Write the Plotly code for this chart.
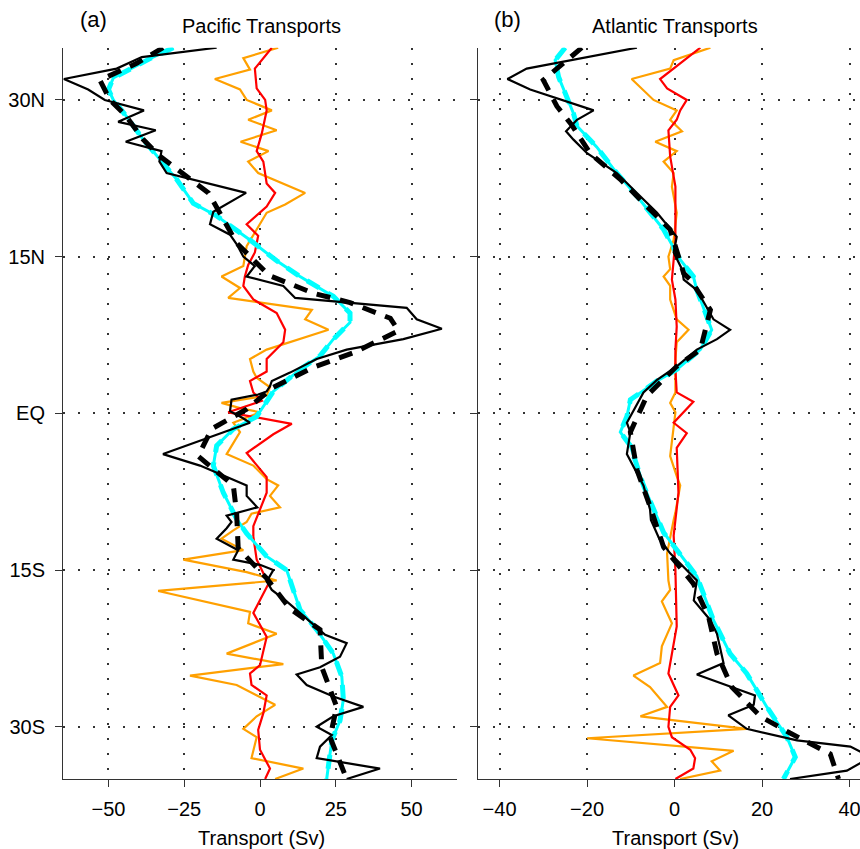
import plotly.graph_objects as go

W, H = 860, 849

# ---------------- Pacific (panel a) ----------------
pac_black_lat = [35, 34.1, 33, 32, 31, 30, 29, 27.9, 27.1, 26, 25.1, 24.1, 23, 21.1, 19.3, 18.1, 17.1, 16.1, 15, 14.1, 13.1,
                 12.2, 11.05, 10.1, 9, 8.1, 7.1, 6.1, 5.2, 3.9, 3.1, 2.6, 2.1, 1.8, 1.3, 0.2, -0.4, -0.9, -3.9, -5, -6.9,
                 -7.9, -9, -9.8, -10.4, -11, -12, -13.1, -14, -14.5, -15, -16.1, -16.9, -18, -19.1, -20.1, -21.2, -22,
                 -23.3, -24.3, -25, -26, -27.1, -28.1, -29, -30, -30.8, -31.9, -33, -34, -35]
pac_black_val = [-14.3, -39, -47.3, -64.7, -56.7, -51.2, -38.3, -46.8, -34.4, -44.3, -32.5, -33.2, -30.8, -4.6, -15.4, -16.5,
                 -9.9, -7.5, -5.5, -1.7, -4.4, 7.7, 11.6, 48.4, 51.7, 60, 47.3, 28.6, 18.7, 9.9, 3.9, 3.3, 2.2, -0.6, -9.4,
                 -9.9, -6, -3.3, -32, -19.8, -4.4, -4.4, -0.9, -11, -9.4, -11, -14.3, -7.2, -8.8, 0, 4.4, 2.2, 3.9, 8.8,
                 13.2, 17.1, 21.5, 28.6, 26.4, 19.8, 12.1, 15.4, 24.2, 34.1, 24.2, 18.7, 23.7, 19.8, 18.7, 39.6, 28.6]

pac_dash_lat = [35, 33.5, 31.9, 30, 28.6, 26.2, 24.6, 23.3, 21.1, 18.9, 16.3, 13.2, 11.5, 10.6, 9.1, 7.9, 5.8, 4.4, 2.5, 0.4,
                -1.5, -4.1, -6.9, -9.6, -12.9, -15.8, -18.7, -20.7, -24.3, -28.1, -31, -35]
pac_dash_val = [-32, -40.7, -52.8, -49.5, -44.6, -38.5, -33, -27, -17, -12.7, -7.7, 3, 17.6, 29.7, 43, 45.7, 30.8, 17.6, 4.4,
                -4.4, -16, -20.4, -8.8, -7.7, -7.2, 2.2, 9.9, 19.8, 20.4, 25.3, 23.1, 28.6]

pac_cyan_lat = [35, 34, 32.1, 31, 30, 28.4, 26.2, 24.3, 22.4, 20.1, 18.9, 16.6, 14.6, 13.1, 11.2, 9.6, 8.7, 7.1, 5.5, 4.2, 2.1,
                -0.3, -1.5, -3.1, -5, -7.6, -10.1, -11.5, -13.7, -15, -18.8, -20.7, -23, -25.2, -27.4, -29.4, -31.3, -35]
pac_cyan_val = [-28.6, -36, -48.4, -50, -48.4, -44, -38.5, -33, -27.5, -22, -14.3, -3.3, 5.5, 13.2, 24.2, 29.7, 29.7, 24.2,
                19.8, 13.2, 4.4, -1.1, -8.8, -14.3, -15.4, -12.1, -7.7, -4.4, 2.2, 8.8, 13.2, 18.7, 24.2, 27, 27.5, 26.4,
                23.7, 22]

pac_orange_lat = [35, 34, 32.9, 32, 31, 30, 29, 28.1, 27.1, 26, 25.1, 24.1, 23, 22, 21.1, 20, 19.2, 17.6, 16, 14.1, 13.1, 12,
                  11.05, 9.9, 9, 8, 6.1, 5.2, 4, 3.4, 2.5, 1.7, 1, 0.5, 0.1, -0.9, -1.8, -3.9, -5, -6.3, -6.9, -7.9, -9,
                  -9.6, -10.4, -11.2, -12, -13.1, -14, -15.2, -16, -17, -19, -20.1, -21.1, -23, -24, -25.1, -26, -27.9,
                  -29, -30.2, -31, -33, -34, -35]
pac_orange_val = [6, -5.5, -3.3, -14.9, -6.6, -4.4, 3.9, -3.9, 5.5, -6.4, 2.8, -3.9, -0.6, 7.7, 14.9, 8.3, 2.2, -1.1, -4.4,
                  -5.5, -12.7, -6.6, -10.5, 17.1, 14.9, 22.6, 2.2, -3.3, -2.2, -1.1, 3.3, 2.2, -12.7, -6.6, 0, -8.8, -6.6,
                  -11, -2.2, 2.2, 6, 3.3, 6.6, -2.8, -4.4, -8.8, -12.7, -5.5, -25.3, -4.4, 5.5, -33.6, -3.3, -3.9, 5.5,
                  -11, 7.7, -23.1, -7.7, 5, -1.1, -5.5, -1.1, -2.8, 14.3, 5]

pac_red_lat = [35, 33, 31.1, 30, 29, 26.8, 25.1, 24.1, 22, 21.1, 19.8, 18.1, 17, 15.4, 14.2, 13.1, 12.2, 10.9, 9.6, 8, 6.8,
               5.2, 4, 3.1, 2, 1.2, 0.1, -1, -2, -3.8, -6.1, -7.6, -10.8, -11.8, -14, -16.3, -19.1, -21.4, -24.1, -24.9,
               -26, -27, -28.7, -30.3, -32.2, -34, -35]
pac_red_val = [3.9, -1.7, -1.1, 1.7, 2.2, 0.6, -1.1, 1.1, 2.2, 5, 2.2, -4.4, -0.6, -1.7, -3.9, -5, -5.5, -2.2, 5.5, 8.3, 7.7,
               2.2, 2.2, -3.3, -2.2, 0.6, -10.5, 10.5, 4.4, -4.4, 2.2, 2.2, -2.2, -2.2, -1.1, 2.8, -2.2, 2.2, 0, -3.3,
               -2.8, 2.2, 1.1, -0.6, 0, 3.3, 1.7]

# ---------------- Atlantic (panel b) ----------------
atl_black_lat = [35, 33, 32, 31, 29, 28.1, 27, 26.2, 24.9, 23, 21.1, 19.2, 16.9, 15.4, 13.8, 12.8, 11.8, 9, 8, 7.1, 6.1,
                 4.5, 3.2, 2, -0.9, -1.8, -3.9, -6.9, -9.2, -10.2, -12, -13.4, -16, -17.9, -19.8, -21.1, -23.9, -25,
                 -27, -27.9, -28.9, -30.2, -31.3, -31.9, -32.9, -34.2, -35]
atl_black_val = [-8.6, -33.8, -38.2, -33, -18.5, -22.3, -24.8, -23.1, -20, -13.2, -8.6, -4, 0.5, -0.2, 1.7, 2.1, 5.1, 8.9,
                 12.7, 9.7, 5.1, 0.5, -4, -7.1, -10.9, -10.1, -10.9, -7.1, -5.6, -5.4, -3.5, -1, 5.1, 4.4, 8.2, 9.7,
                 11.2, 5.1, 18.4, 18.1, 12.3, 16.5, 28, 40.2, 45, 39.4, 26.4]

atl_dash_lat = [35, 31.9, 29.4, 27.6, 24.9, 22.4, 19.8, 17.6, 13.4, 12.8, 9.9, 6.1, 4.5, 1.7, -1.8, -5.4, -8.9, -12.8, -16.3,
                -19.5, -23, -26.2, -29, -30.6, -32.6, -34.5, -35]
atl_dash_val = [-21.2, -30, -26.9, -23.5, -19.3, -12.4, -6.3, -1, 2.1, 3.6, 8.2, 5.9, 0.5, -6.3, -10.1, -8.6, -5.6, -2.5,
                4.3, 7.8, 9.7, 13.1, 19.6, 26.4, 35.6, 37.1, 37.5]

atl_cyan_lat = [35, 33.8, 32.2, 30.3, 28.7, 27.5, 25.5, 23, 20.8, 17.6, 14.7, 13.1, 11.8, 8, 6.1, 4.2, 3.1, 1.3, -0.3, -1.8,
                -3.1, -6.9, -11.4, -15.6, -19.8, -23, -24.9, -28.1, -31, -32.9, -35]
atl_cyan_val = [-25, -27.3, -26.5, -24.6, -23.1, -22.3, -17.8, -13.2, -8.6, -2.5, 1.3, 4.3, 5.1, 8.5, 5.9, 0.5, -4, -10.1,
                -10.9, -12.4, -10.1, -7.1, -2.5, 5.1, 8.9, 12.7, 16.5, 21.1, 25.7, 27.6, 24.9]

atl_orange_lat = [35, 33.8, 33, 32, 30, 29, 28.1, 27, 26, 25.1, 24.1, 23, 21.7, 19.2, 16.6, 15, 13.8, 13.1, 12.2, 10.9, 9,
                  8, 6.8, 5.2, 2, 1, 0.1, -1.5, -4.1, -6, -6.9, -9.5, -10.2, -13.4, -16, -16.9, -18, -20.1, -22.3, -23.9,
                  -25.1, -26.2, -28.1, -29, -30.2, -31.1, -32.3, -33.3, -34.2, -35]
atl_orange_val = [8.2, -0.2, -1, -9.8, -4.8, 0.5, -1, 1.7, -4.4, 0.5, -2.5, -0.2, -0.6, 0.5, -0.2, -1.4, -1, -2.5, -1, -1,
                  0.5, 3.2, 0.5, 0.2, 0.2, -1, 0.2, -0.2, -1, 0.5, 1.3, 0.2, -0.2, -1.7, -1.4, -1, -2.9, -0.6, -2.9, -3.3,
                  -9.4, -5.6, -1.7, -7.8, 16.5, -20, 13.5, 8.5, 10.4, 1.3]

atl_red_lat = [35, 34, 32, 31.1, 30, 29, 28.1, 27.1, 24.6, 21.7, 16.6, 12.8, 10.9, 8.3, 6.1, 4.2, 2, 1.1, -0.9, -1.9, -3.3,
               -7.6, -11.7, -15, -20.4, -24.9, -27, -28.1, -30, -31, -32.2, -33, -34, -35]
atl_red_val = [5.9, 2.8, -3.3, -1.7, 2.8, 1.3, 0.5, -1.4, -1, 0.2, 0.2, -0.6, 0.2, 0.5, 0.2, 0.2, 0.5, 4.3, -0.2, 2.8, 0.5,
               0.9, -0.2, 0.2, 0.5, -1.4, 0.9, -1, -1.4, -0.6, 3.6, 4.7, 4.3, 0.2]

# ---------------- axes / labels ----------------
lat_ticks = [-30, -15, 0, 15, 30]
lat_labels = ["30S", "15S", "EQ", "15N", "30N"]
pac_xticks = [-50, -25, 0, 25, 50]
atl_xticks = [-40, -20, 0, 20, 40]

BLACK = "#000000"
CYAN = "#00FFFF"
ORANGE = "#FFA000"
RED = "#FF0000"
FONT = "Liberation Sans, Arial, sans-serif"

fig = go.Figure()


def add(xa, ya, lat, val, color, width, dash="solid"):
    fig.add_trace(go.Scatter(x=val, y=lat, mode="lines", xaxis=xa, yaxis=ya,
                             line=dict(color=color, width=width, dash=dash),
                             showlegend=False, hoverinfo="skip"))


for xa, ya, d in [("x", "y", dict(o=(pac_orange_lat, pac_orange_val), r=(pac_red_lat, pac_red_val),
                                  c=(pac_cyan_lat, pac_cyan_val), kd=(pac_dash_lat, pac_dash_val),
                                  k=(pac_black_lat, pac_black_val))),
                  ("x2", "y2", dict(o=(atl_orange_lat, atl_orange_val), r=(atl_red_lat, atl_red_val),
                                    c=(atl_cyan_lat, atl_cyan_val), kd=(atl_dash_lat, atl_dash_val),
                                    k=(atl_black_lat, atl_black_val)))]:
    add(xa, ya, *d["o"], ORANGE, 2.2)
    add(xa, ya, *d["r"], RED, 2.2)
    add(xa, ya, *d["c"], CYAN, 3)
    add(xa, ya, *d["c"], CYAN, 5, "14px,10px")
    add(xa, ya, *d["kd"], BLACK, 5, "14px,10px")
    add(xa, ya, *d["k"], BLACK, 2.2)

ydom = [1 - 779 / H, 1 - 47.7 / H]
common = dict(showline=True, linecolor="#333333", linewidth=1, ticks="outside", ticklen=7, tickwidth=1,
              tickcolor="#333333", showgrid=True, gridcolor="#333333", gridwidth=1.5, griddash="2px,13px",
              zeroline=False, tickfont=dict(family=FONT, size=20, color="black"), automargin=False, mirror=False,
              ticklabeloverflow="allow")

fig.update_layout(
    width=W, height=H, margin=dict(l=0, r=0, t=0, b=0),
    paper_bgcolor="white", plot_bgcolor="white",
    xaxis=dict(domain=[63 / W, 457 / W], range=[-65, 65], tickvals=pac_xticks, anchor="y",
               ticklabelstandoff=5, **common),
    yaxis=dict(domain=ydom, range=[-35, 35], tickvals=lat_ticks, ticktext=lat_labels, anchor="x",
               ticklabelstandoff=6, **common),
    xaxis2=dict(domain=[477.7 / W, 1.0], range=[-45, 42.4], tickvals=atl_xticks, anchor="y2",
                ticklabelstandoff=5, **common),
    yaxis2=dict(domain=ydom, range=[-35, 35], tickvals=lat_ticks, showticklabels=False, anchor="x2", **common),
)

annots = [
    ("(a)", 93, 20, 22), ("Pacific Transports", 261, 26, 20),
    ("(b)", 507, 20, 22), ("Atlantic Transports", 675, 26, 20),
    ("Transport (Sv)", 261, 837.5, 20), ("Transport (Sv)", 675, 837.5, 20),
]
for txt, xp, yp, sz in annots:
    fig.add_annotation(text=txt, x=xp / W, y=1 - yp / H, xref="paper", yref="paper",
                       xanchor="center", yanchor="middle", showarrow=False,
                       font=dict(family=FONT, size=sz, color="black"))

fig.write_html("out.html")
